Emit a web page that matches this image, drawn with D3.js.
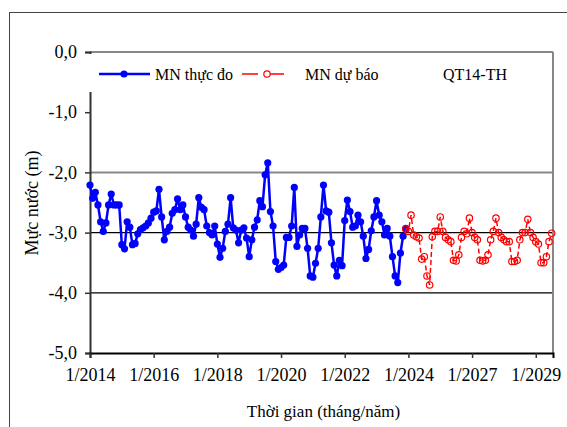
<!DOCTYPE html>
<html><head><meta charset="utf-8">
<script src="https://cdn.jsdelivr.net/npm/d3@7"></script>
<style>
html,body{margin:0;padding:0;background:#fff;}
svg{display:block;}
svg text{font-family:"Liberation Serif","Times New Roman",serif !important;}
</style></head>
<body>
<svg id="c" width="567" height="427"></svg>
<script>
// ---- data ----
const obsValues = [
-2.21,-2.43,-2.33,-2.54,-2.82,-2.98,-2.84,-2.54,-2.36,-2.54,
-2.54,-2.54,-3.20,-3.27,-2.82,-2.91,-3.20,-3.18,-3.02,-2.95,
-2.92,-2.89,-2.84,-2.76,-2.66,-2.64,-2.28,-2.74,-3.12,-2.98,
-2.91,-2.68,-2.62,-2.44,-2.62,-2.54,-2.74,-2.91,-2.96,-3.06,
-2.86,-2.42,-2.58,-2.62,-2.89,-3.00,-3.04,-2.89,-3.19,-3.41,
-3.26,-2.98,-2.86,-2.42,-2.92,-2.96,-3.17,-2.96,-2.92,-3.09,
-3.40,-3.12,-2.91,-2.79,-2.47,-2.57,-2.04,-1.84,-2.65,-2.89,
-3.48,-3.61,-3.58,-3.54,-3.08,-3.08,-2.89,-2.25,-3.23,-3.04,
-2.93,-2.93,-3.26,-3.72,-3.74,-3.51,-3.26,-2.74,-2.21,-2.64,
-2.66,-3.17,-3.54,-3.72,-3.46,-3.55,-2.80,-2.46,-2.65,-2.91,
-2.89,-2.71,-2.82,-3.06,-3.43,-3.28,-2.97,-2.74,-2.47,-2.71,
-2.82,-3.04,-2.93,-3.06,-3.40,-3.72,-3.83,-3.34,-3.06,-2.93
];
const forecastStart = 119;
const forecastValues = [
-2.94,-2.98,-2.71,-3.04,-3.07,-3.09,-3.44,-3.40,-3.72,-3.87,
-3.07,-2.98,-2.98,-2.74,-2.98,-3.08,-3.12,-3.15,-3.46,-3.47,
-3.37,-3.08,-2.98,-3.02,-2.76,-3.00,-3.08,-3.12,-3.46,-3.47,
-3.46,-3.37,-3.12,-2.98,-2.76,-3.00,-3.08,-3.12,-3.15,-3.15,
-3.48,-3.48,-3.46,-3.12,-3.00,-3.00,-2.78,-3.00,-3.08,-3.15,
-3.19,-3.50,-3.50,-3.40,-3.15,-3.01
];
const xTickIndex = [0,24,48,72,96,120,144,168];
const xTickLabels = ["1/2014","1/2016","1/2018","1/2020","1/2022","1/2024","1/2027","1/2029"];
const yTicks = [0,-1,-2,-3,-4,-5];
const seriesNames = ["MN thực đo","MN dự báo"];
const stationName = "QT14-TH";
const xTitle = "Thời gian  (tháng/năm)";
const yTitle = "Mực nước (m)";

// ---- chart ----
const FONT = "'Liberation Serif','Times New Roman',serif";
const svg = d3.select("#c");
const L = 90, R = 553, T = 52, B = 353;
const x = d3.scaleLinear().domain([0,174.5]).range([L,R]);
const y = d3.scaleLinear().domain([-5,0]).range([B,T]);
const fmt = v => d3.format(".1f")(v).replace(".",",").replace("−","-");

// outer frame
svg.append("rect").attr("x",9.5).attr("y",12.5).attr("width",600).attr("height",500)
  .attr("fill","none").attr("stroke","#444").attr("stroke-width",1);

// gridlines
const grid = [{v:-2,c:"#888",w:2},{v:-3,c:"#000",w:1.2},{v:-4,c:"#000",w:1.2}];
svg.append("g").selectAll("line").data(grid).join("line")
  .attr("x1",L).attr("x2",R).attr("y1",d=>y(d.v)).attr("y2",d=>y(d.v))
  .attr("stroke",d=>d.c).attr("stroke-width",d=>d.w);

// plot border top/right
svg.append("line").attr("x1",L).attr("x2",R).attr("y1",T).attr("y2",T).attr("stroke","#888").attr("stroke-width",2);
svg.append("line").attr("x1",R).attr("x2",R).attr("y1",T).attr("y2",B).attr("stroke","#888").attr("stroke-width",2);

// axes
const yAxis = d3.axisLeft(y).tickValues(yTicks).tickFormat(fmt).tickSize(5).tickPadding(8);
const gy = svg.append("g").attr("transform",`translate(${L},0)`).call(yAxis).attr("font-family",FONT);
gy.select(".domain").attr("stroke","#333").attr("stroke-width",2);
gy.selectAll(".tick line").attr("stroke","#333").attr("stroke-width",1.5);
gy.selectAll("text").attr("font-size",18).attr("fill","#000").style("font-family",FONT);

const xAxis = d3.axisBottom(x).tickValues(xTickIndex).tickFormat((d,i)=>xTickLabels[i]).tickSize(5).tickPadding(10);
const gx = svg.append("g").attr("transform",`translate(0,${B})`).call(xAxis).attr("font-family",FONT);
gx.select(".domain").attr("stroke","#000").attr("stroke-width",2);
gx.selectAll(".tick line").attr("stroke","#333").attr("stroke-width",1.5);
gx.selectAll("text").attr("font-size",18).attr("fill","#000").style("font-family",FONT);

// axis titles
svg.append("text").attr("x",(L+R)/2+2).attr("y",417).attr("text-anchor","middle")
  .attr("font-size",17).style("font-family",FONT).text(xTitle);
svg.append("text").attr("transform","translate(38,203) rotate(-90)").attr("text-anchor","middle")
  .attr("font-size",18).style("font-family",FONT).text(yTitle);

// observed series
const obs = obsValues.map((v,i)=>({i, v}));
const line = d3.line().x(d=>x(d.i)).y(d=>y(d.v));
svg.append("path").datum(obs).attr("d",line).attr("fill","none")
  .attr("stroke","#0000FF").attr("stroke-width",2.5).attr("stroke-linejoin","round");
svg.append("g").selectAll("circle").data(obs).join("circle")
  .attr("cx",d=>x(d.i)).attr("cy",d=>y(d.v)).attr("r",3.6).attr("fill","#0000FF");

// forecast series
const fc = forecastValues.map((v,k)=>({i:forecastStart+k, v}));
svg.append("path").datum(fc).attr("d",line).attr("fill","none")
  .attr("stroke","#FF0000").attr("stroke-width",1.5).attr("stroke-dasharray","5,3");
svg.append("g").selectAll("circle").data(fc).join("circle")
  .attr("cx",d=>x(d.i)).attr("cy",d=>y(d.v)).attr("r",3.2)
  .attr("fill","none").attr("stroke","#FF0000").attr("stroke-width",1.2);

// legend
const lg = svg.append("g");
lg.append("rect").attr("x",89).attr("y",54).attr("width",461).attr("height",38).attr("fill","#fff");
const ly = 74;
lg.append("line").attr("x1",99).attr("x2",150).attr("y1",ly).attr("y2",ly).attr("stroke","#0000FF").attr("stroke-width",2.5);
lg.append("circle").attr("cx",124).attr("cy",ly).attr("r",3.6).attr("fill","#0000FF");
lg.append("text").attr("x",155).attr("y",ly+5.5).attr("font-size",16).style("font-family",FONT).text(seriesNames[0]);
lg.append("line").attr("x1",242).attr("x2",294).attr("y1",ly).attr("y2",ly).attr("stroke","#FF0000").attr("stroke-width",1.5).attr("stroke-dasharray","16,10");
lg.append("circle").attr("cx",267).attr("cy",ly).attr("r",3.2).attr("fill","#fff").attr("stroke","#FF0000").attr("stroke-width",1.2);
lg.append("text").attr("x",305).attr("y",ly+5.5).attr("font-size",16).style("font-family",FONT).text(seriesNames[1]);
lg.append("text").attr("x",443).attr("y",ly+5.5).attr("font-size",16).style("font-family",FONT).text(stationName);
</script>
</body></html>
